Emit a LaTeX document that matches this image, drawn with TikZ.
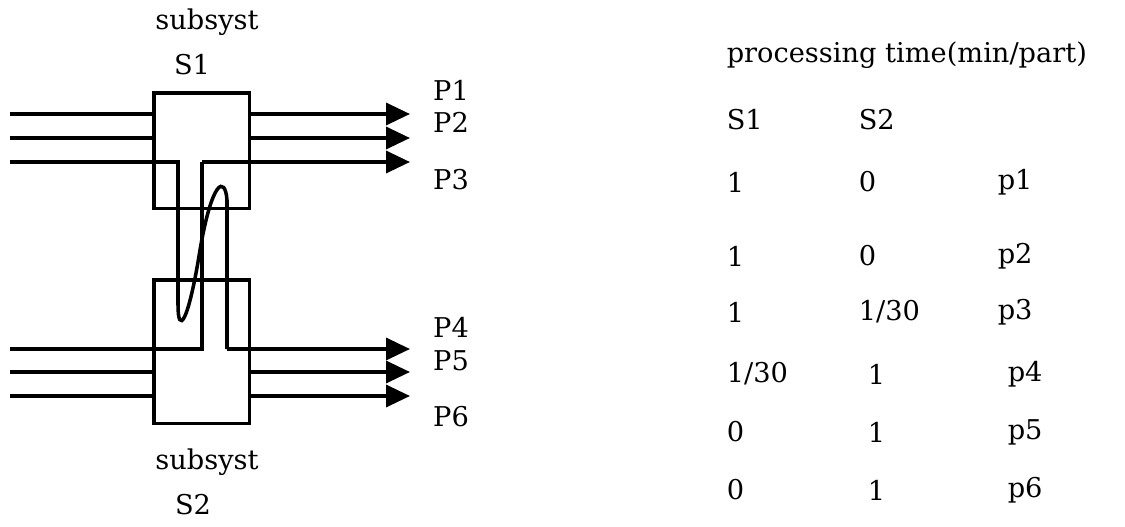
\documentclass[tikz,border=0pt]{standalone}
\usepackage{fontspec}
\setmainfont{DejaVu Serif}
\usepackage{tikz}
\usetikzlibrary{calc,arrows.meta}

\begin{document}
\begin{tikzpicture}[x=0.02cm,y=-0.02cm,line width=2pt,
    font=\fontsize{15.5}{18}\selectfont,
    subsys/.style={draw,line width=2pt,inner sep=0pt,minimum width=1.92cm},
    outarr/.style={-{Triangle[length=0.48cm,width=0.44cm]}},
    lbl/.style={inner sep=0pt},
    cell/.style={inner sep=0pt,anchor=west}]
    \pgfmathsetmacro{\xl}{10}
    \pgfmathsetmacro{\xr}{410}
    \pgfmathsetmacro{\xa}{178}
    \pgfmathsetmacro{\xb}{202}
    \pgfmathsetmacro{\xc}{227}
    \useasboundingbox (0,0) rectangle (1125,527);
    \node[subsys,minimum height=2.32cm,anchor=north west] (s1) at (152,91) {};
    \node[subsys,minimum height=2.88cm,anchor=north west] (s2) at (152,278) {};
    \node[lbl] (sub1) at (207,22) {subsyst};
    \node[lbl] (n1) at (192,65) {S1};
    \node[lbl] (sub2) at (207,462) {subsyst};
    \node[lbl] (n2) at (193,505) {S2};
    \coordinate (i1) at (\xl,114);
    \coordinate (i2) at (\xl,138);
    \coordinate (i3) at (\xl,162);
    \coordinate (i4) at (\xl,349);
    \coordinate (i5) at (\xl,372);
    \coordinate (i6) at (\xl,396);
    \coordinate (o1) at (\xr,114);
    \coordinate (o2) at (\xr,138);
    \coordinate (o3) at (\xr,162);
    \coordinate (o4) at (\xr,349);
    \coordinate (o5) at (\xr,372);
    \coordinate (o6) at (\xr,396);
    \draw (i1) -- (i1 -| s1.west);
    \draw (i2) -- (i2 -| s1.west);
    \draw[outarr] (o1 -| s1.east) -- (o1);
    \draw[outarr] (o2 -| s1.east) -- (o2);
    \draw (i5) -- (i5 -| s2.west);
    \draw (i6) -- (i6 -| s2.west);
    \draw[outarr] (o5 -| s2.east) -- (o5);
    \draw[outarr] (o6 -| s2.east) -- (o6);
    \draw (i3) -- (\xa,162) -- (\xa,305)
        .. controls (\xa,335) and (188,325) .. (200,250)
        .. controls (212,180) and (225,175) .. (\xc,200)
        -- (\xc,349);
    \draw (i4) -- (\xb,349) -- (\xb,162);
    \draw[outarr] (\xc,349) -- (o4);
    \draw[outarr] (\xb,162) -- (o3);
    \node[lbl] (p1) at (451,90) {P1};
    \node[lbl] (p2) at (451,122) {P2};
    \node[lbl] (p3) at (451,180) {P3};
    \node[lbl] (p4) at (451,327) {P4};
    \node[lbl] (p5) at (451,361) {P5};
    \node[lbl] (p6) at (451,417) {P6};
    \node[cell,anchor=base west] (head) at (725,63) {processing time(min/part)};
    \node[cell] (h1) at (725,120) {S1};
    \node[cell] (h2) at (857,120) {S2};
    \node[cell] (a1) at (725,182) {1};
    \node[cell] (b1) at (857,182) {0};
    \node[cell] (c1) at (996,182) {p1};
    \node[cell] (a2) at (725,256) {1};
    \node[cell] (b2) at (857,256) {0};
    \node[cell] (c2) at (996,256) {p2};
    \node[cell] (a3) at (725,312) {1};
    \node[cell] (b3) at (857,312) {1/30};
    \node[cell] (c3) at (996,312) {p3};
    \node[cell] (a4) at (725,374) {1/30};
    \node[cell] (b4) at (866,374) {1};
    \node[cell] (c4) at (1006,374) {p4};
    \node[cell] (a5) at (725,432) {0};
    \node[cell] (b5) at (866,432) {1};
    \node[cell] (c5) at (1006,432) {p5};
    \node[cell] (a6) at (725,490) {0};
    \node[cell] (b6) at (866,490) {1};
    \node[cell] (c6) at (1006,490) {p6};
\end{tikzpicture}
\end{document}
